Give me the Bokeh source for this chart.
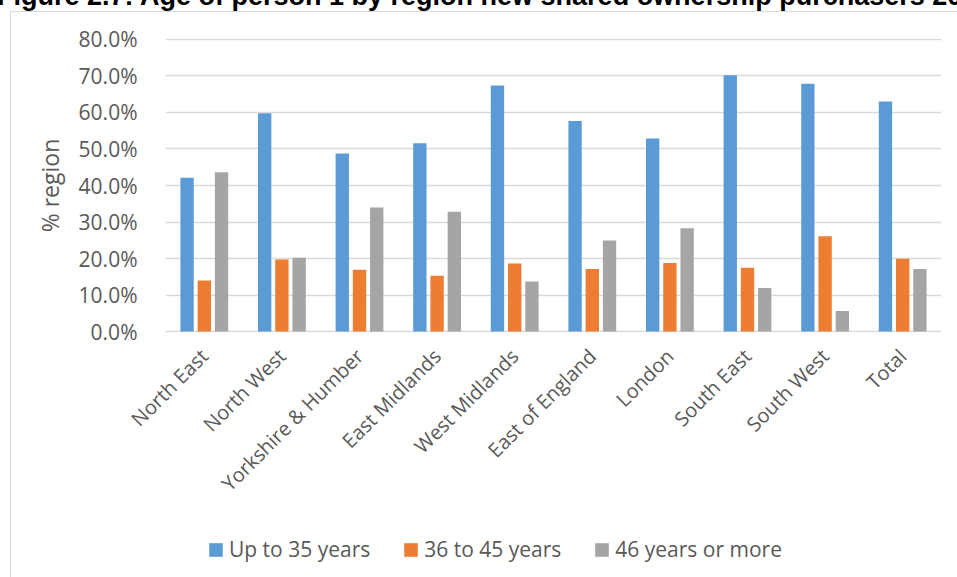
import math
from bokeh.plotting import figure
from bokeh.layouts import column
from bokeh.models import (FactorRange, Range1d, FixedTicker, NumeralTickFormatter,
                          Legend, LegendItem, Div, ColumnDataSource)
from bokeh.transform import dodge
from bokeh.embed import file_html
from bokeh.resources import INLINE

regions = ["North East", "North West", "Yorkshire & Humber", "East Midlands",
           "West Midlands", "East of England", "London", "South East",
           "South West", "Total"]
up_to_35 = [0.421, 0.598, 0.488, 0.516, 0.674, 0.577, 0.529, 0.702, 0.679, 0.630]
age_36_45 = [0.140, 0.197, 0.169, 0.153, 0.186, 0.171, 0.188, 0.175, 0.261, 0.199]
age_46_plus = [0.436, 0.202, 0.340, 0.328, 0.137, 0.249, 0.283, 0.119, 0.056, 0.171]
series_names = ["Up to 35 years", "36 to 45 years", "46 years or more"]
colors = ["#5B9BD5", "#ED7D31", "#A5A5A5"]
y_ticks = [0.0, 0.1, 0.2, 0.3, 0.4, 0.5, 0.6, 0.7, 0.8]
title_text = "Figure 2.7: Age of person 1 by region new shared ownership purchasers 2017-18"

src = ColumnDataSource(dict(region=regions, a=up_to_35, b=age_36_45, c=age_46_plus))

OX, OY = 10, 11          # chart box origin in the window
BW = 1.5                 # chart box border width
SPLIT = 522              # window y where the legend strip starts
W = 957 - OX
H = SPLIT - OY
FL, FR = 166 - OX - 2, 942 - OX - 2
FT, FB = 39 - OY - 2, 333 - OY - 2
box_style = {"margin-left": f"{OX}px", "border-left": f"{BW}px solid #d9d9d9"}

p = figure(width=W, height=H, x_range=FactorRange(*regions),
           y_range=Range1d(-0.0027, 0.8027),
           output_backend="svg", toolbar_location=None,
           min_border_left=FL, min_border_right=W - FR,
           min_border_top=FT, min_border_bottom=H - FB,
           styles=dict(box_style, **{"border-top": f"{BW}px solid #d9d9d9"}))
p.outline_line_color = None
p.background_fill_color = "white"
p.border_fill_color = "white"

for key, off, col in zip(["a", "b", "c"], [-0.222, 0.0, 0.222], colors):
    p.vbar(x=dodge("region", off, range=p.x_range), top=key, width=0.172,
           source=src, fill_color=col, line_color=None)

p.xgrid.grid_line_color = None
p.ygrid.grid_line_color = "#d9d9d9"
p.ygrid.grid_line_width = 1.4
p.yaxis.ticker = FixedTicker(ticks=y_ticks)
p.ygrid.ticker = FixedTicker(ticks=y_ticks)
p.yaxis.formatter = NumeralTickFormatter(format="0.0%")

for ax in (p.xaxis[0], p.yaxis[0]):
    ax.axis_line_color = None
    ax.major_tick_line_color = None
    ax.minor_tick_line_color = None
    ax.major_label_text_color = "#595959"
    ax.major_label_text_font = "Open Sans"
    ax.major_label_text_font_size = "20px"

p.yaxis.major_label_text_font_size = "21px"
p.yaxis.major_label_standoff = 22
p.yaxis.axis_label = "% region"
p.yaxis.axis_label_text_font = "Open Sans"
p.yaxis.axis_label_text_font_size = "23px"
p.yaxis.axis_label_text_font_style = "normal"
p.yaxis.axis_label_text_color = "#595959"
p.yaxis.axis_label_standoff = 10

p.xaxis.major_label_orientation = math.pi / 4
p.xaxis.major_label_standoff = 14
p.x_range.range_padding = 0

# legend strip (its frame is aligned with the main frame by the column layout)
LH = 577 - SPLIT
lf = figure(width=W, height=LH, x_range=Range1d(0, 1), y_range=Range1d(0, 1),
            x_axis_type=None, y_axis_type=None,
            output_backend="svg", toolbar_location=None,
            min_border_left=0, min_border_right=0, min_border_top=0, min_border_bottom=0,
            styles=box_style)
lf.outline_line_color = None
lf.grid.visible = False
lf.background_fill_color = "white"
lf.border_fill_color = "white"
items = []
for name, col in zip(series_names, colors):
    # legend swatch carrier: a zero-size bar outside the visible range
    r = lf.vbar(x=[-1.0], top=[0.0], width=0.0, fill_color=col, line_color=None)
    items.append(LegendItem(label=name, renderers=[r]))
legend = Legend(items=items, orientation="horizontal", location=(42, 14))
legend.border_line_color = None
legend.background_fill_alpha = 0
legend.padding = 0
legend.margin = 0
legend.glyph_width = 17
legend.glyph_height = 17
legend.label_standoff = 5
legend.spacing = 32
legend.label_text_font = "Open Sans"
legend.label_text_font_size = "21px"
legend.label_text_color = "#595959"
lf.add_layout(legend, "center")

title_div = Div(
    text=(f'<div style="position: relative; top: -17px; left: -3px; '
          f'font: bold 27px \'Liberation Sans\', Arial, sans-serif; '
          f'line-height: 27px; white-space: nowrap; color: black;">'
          f'{title_text}</div>'),
    width=957, height=OY,
    styles={"overflow": "hidden", "height": f"{OY}px", "margin": "0"})

layout = column(title_div, p, lf, spacing=0)

open("out.html", "w").write(file_html(layout, INLINE))
